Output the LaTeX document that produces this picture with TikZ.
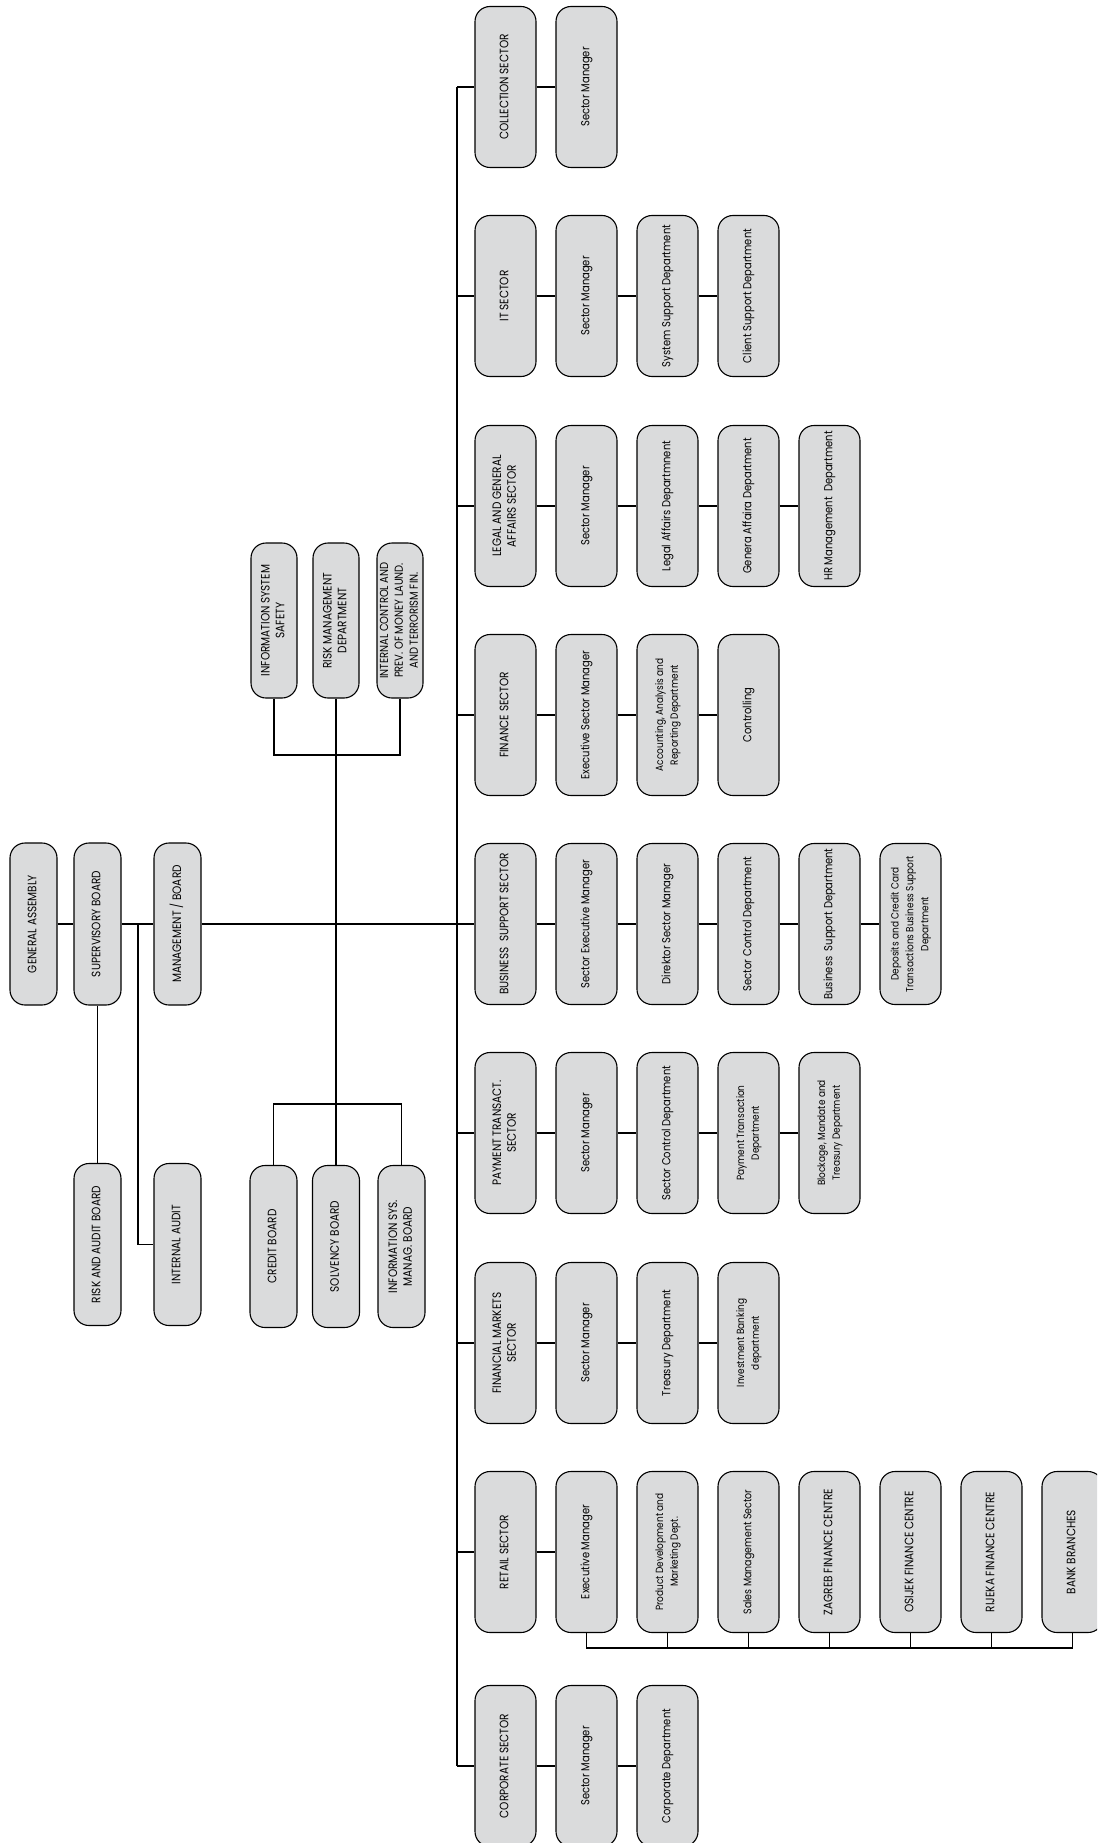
\documentclass[tikz,border=0pt]{standalone}
\usepackage{fontspec}
\setmainfont{Poppins}[FakeStretch=0.86]
\usepackage{graphicx}
\definecolor{boxgray}{RGB}{218,219,220}
\newcommand{\vt}[2][11.6]{\rotatebox{90}{\fontsize{#1}{14.8}\selectfont\begin{tabular}{@{}c@{}}#2\end{tabular}}}
\begin{document}
\begin{tikzpicture}[x=1pt,y=-1pt,
  bx/.style={draw=black, line width=1.1pt, fill=boxgray, rounded corners=15pt, inner sep=0pt, minimum width=61pt, minimum height=161pt},
  lbx/.style={bx, minimum width=47pt, minimum height=162pt},
  ubx/.style={bx, minimum width=46pt, minimum height=155pt},
  conn/.style={line width=1.6pt, draw=black}]
\useasboundingbox (0,0) rectangle (1097,1843);
\clip (0,0) rectangle (1097,1843);

% ---------- left part ----------
\node[lbx] (GA)   at (33.5,924)    {\vt[12.2]{GENERAL ASSEMBLY}};
\node[lbx] (SB)   at (97.5,924)    {\vt[12.2]{SUPERVISORY BOARD}};
\node[lbx] (MB)   at (177.5,924)   {\vt[12.2]{MANAGEMENT / BOARD}};
\node[lbx] (RAB)  at (97.5,1244.5) {\vt[12.2]{RISK AND AUDIT BOARD}};
\node[lbx] (IA)   at (177.5,1244.5){\vt[12.2]{INTERNAL AUDIT}};
\node[lbx] (CB)   at (273.5,1246.5){\vt[12.2]{CREDIT BOARD}};
\node[lbx] (SOLV) at (336,1246.5)  {\vt[12.2]{SOLVENCY BOARD}};
\node[lbx] (ISMB) at (401.5,1246.5){\vt[12.2]{INFORMATION SYS.\\MANAG. BOARD}};
\node[ubx] (ISS)  at (274,620.5)   {\vt[12.2]{INFORMATION SYSTEM\\SAFETY}};
\node[ubx] (RMD)  at (336,620.5)   {\vt[12.2]{RISK MANAGEMENT\\DEPARTMENT}};
\node[ubx] (ICP)  at (400,620.5)   {\vt[11.6]{INTERNAL CONTROL AND\\PREV. OF MONEY LAUND.\\AND TERRORISM FIN.}};

\coordinate (iaT) at (138,924);
\coordinate (ubr) at (336,755);
\coordinate (lbr) at (336,1104);

\draw[conn] (GA.east) -- (SB.west);
\draw[conn] (SB.east) -- (MB.west);
\draw[conn] (SB.south) -- (RAB.north);
\draw[conn] (iaT) |- (IA.west);
\draw[conn] (RMD.south) -- (SOLV.north);
\draw[conn] (ISS.south) -- (ISS.south |- ubr) -- (ICP.south |- ubr) -- (ICP.south);
\draw[conn] (CB.north) -- (CB.north |- lbr) -- (ISMB.north |- lbr) -- (ISMB.north);

% ---------- sectors ----------
% row 1: collection
\node[bx] (a1) at (505.5,87) {\vt[12.2]{COLLECTION SECTOR}};
\node[bx] (a2) at (586.5,87) {\vt{Sector Manager}};
% row 2: IT
\node[bx] (b1) at (505.5,296) {\vt[12.2]{IT SECTOR}};
\node[bx] (b2) at (586.5,296) {\vt{Sector Manager}};
\node[bx] (b3) at (667.5,296) {\vt{System Support Department}};
\node[bx] (b4) at (748.5,296) {\vt{Client Support Department}};
% row 3: legal
\node[bx] (c1) at (505.5,506) {\vt[12.2]{LEGAL AND GENERAL\\AFFAIRS SECTOR}};
\node[bx] (c2) at (586.5,506) {\vt{Sector Manager}};
\node[bx] (c3) at (667.5,506) {\vt{Legal Affairs Departmnent}};
\node[bx] (c4) at (748.5,506) {\vt{Genera Affaira Department}};
\node[bx] (c5) at (829.5,506) {\vt{HR Management\ \ Department}};
% row 4: finance
\node[bx] (d1) at (505.5,715) {\vt[12.2]{FINANCE SECTOR}};
\node[bx] (d2) at (586.5,715) {\vt{Executive Sector Manager}};
\node[bx] (d3) at (667.5,715) {\vt[10.4]{Accounting, Analysis and\\Reporting Department}};
\node[bx] (d4) at (748.5,715) {\vt{Controlling}};
% row 5: business support
\node[bx] (e1) at (505.5,924) {\vt[12.2]{BUSINESS\ \ SUPPORT SECTOR}};
\node[bx] (e2) at (586.5,924) {\vt{Sector Executive Manager}};
\node[bx] (e3) at (667.5,924) {\vt{Direktor Sector Manager}};
\node[bx] (e4) at (748.5,924) {\vt{Sector Control Department}};
\node[bx] (e5) at (829.5,924) {\vt{Business\ \ Support Department}};
\node[bx] (e6) at (910.5,924) {\vt[10.4]{Deposits and Credit Card\\Transactions Business Support\\Department}};
% row 6: payment
\node[bx] (f1) at (505.5,1133) {\vt[12.2]{PAYMENT TRANSACT.\\SECTOR}};
\node[bx] (f2) at (586.5,1133) {\vt{Sector Manager}};
\node[bx] (f3) at (667.5,1133) {\vt{Sector Control Department}};
\node[bx] (f4) at (748.5,1133) {\vt[10.4]{Payment Transaction\\Department}};
\node[bx] (f5) at (829.5,1133) {\vt[10.4]{Blockage, Mandate and\\Treasury Department}};
% row 7: financial markets
\node[bx] (g1) at (505.5,1343) {\vt[12.2]{FINANCIAL MARKETS\\SECTOR}};
\node[bx] (g2) at (586.5,1343) {\vt{Sector Manager}};
\node[bx] (g3) at (667.5,1343) {\vt{Treasury Department}};
\node[bx] (g4) at (748.5,1343) {\vt[10.4]{Investment Banking\\department}};
% row 8: retail
\node[bx] (h1) at (505.5,1552) {\vt[12.2]{RETAIL SECTOR}};
\node[bx] (h2) at (586.5,1552) {\vt{Executive Manager}};
\node[bx] (h3) at (667.5,1552) {\vt[10.4]{Product Development and\\Marketing Dept.}};
\node[bx] (h4) at (748.5,1552) {\vt[11]{Sales Management Sector}};
\node[bx] (h5) at (829.5,1552) {\vt[12.2]{ZAGREB FINANCE CENTRE}};
\node[bx] (h6) at (910.5,1552) {\vt[12.2]{OSIJEK FINANCE CENTRE}};
\node[bx] (h7) at (991.5,1552) {\vt[12.2]{RIJEKA FINANCE CENTRE}};
\node[bx] (h8) at (1072.5,1552) {\vt[12.2]{BANK BRANCHES}};
% row 9: corporate
\node[bx] (k1) at (505.5,1766) {\vt[12.2]{CORPORATE SECTOR}};
\node[bx] (k2) at (586.5,1766) {\vt{Sector Manager}};
\node[bx] (k3) at (667.5,1766) {\vt{Corporate Department}};

% spine
\coordinate (s1) at (457,87);
\coordinate (s2) at (457,296);
\coordinate (s3) at (457,506);
\coordinate (s4) at (457,715);
\coordinate (s5) at (457,924);
\coordinate (s6) at (457,1133);
\coordinate (s7) at (457,1343);
\coordinate (s8) at (457,1552);
\coordinate (s9) at (457,1766);
\coordinate (rbr) at (0,1648);

\draw[conn] (s1) -- (s9);
\draw[conn] (MB.east) -- (s5);
\draw[conn] (s1) -- (a1.west);
\draw[conn] (s2) -- (b1.west);
\draw[conn] (s3) -- (c1.west);
\draw[conn] (s4) -- (d1.west);
\draw[conn] (s5) -- (e1.west);
\draw[conn] (s6) -- (f1.west);
\draw[conn] (s7) -- (g1.west);
\draw[conn] (s8) -- (h1.west);
\draw[conn] (s9) -- (k1.west);

\draw[conn] (a1) -- (a2);
\draw[conn] (b1) -- (b2); \draw[conn] (b2) -- (b3); \draw[conn] (b3) -- (b4);
\draw[conn] (c1) -- (c2); \draw[conn] (c2) -- (c3); \draw[conn] (c3) -- (c4); \draw[conn] (c4) -- (c5);
\draw[conn] (d1) -- (d2); \draw[conn] (d2) -- (d3); \draw[conn] (d3) -- (d4);
\draw[conn] (e1) -- (e2); \draw[conn] (e2) -- (e3); \draw[conn] (e3) -- (e4); \draw[conn] (e4) -- (e5); \draw[conn] (e5) -- (e6);
\draw[conn] (f1) -- (f2); \draw[conn] (f2) -- (f3); \draw[conn] (f3) -- (f4); \draw[conn] (f4) -- (f5);
\draw[conn] (g1) -- (g2); \draw[conn] (g2) -- (g3); \draw[conn] (g3) -- (g4);
\draw[conn] (h1) -- (h2);
\draw[conn] (k1) -- (k2); \draw[conn] (k2) -- (k3);

\draw[conn] (h2.south) -- (h2.south |- rbr) -- (h8.south |- rbr) -- (h8.south);
\foreach \n in {h3,h4,h5,h6,h7} \draw[conn] (\n.south) -- (\n.south |- rbr);
\end{tikzpicture}
\end{document}
